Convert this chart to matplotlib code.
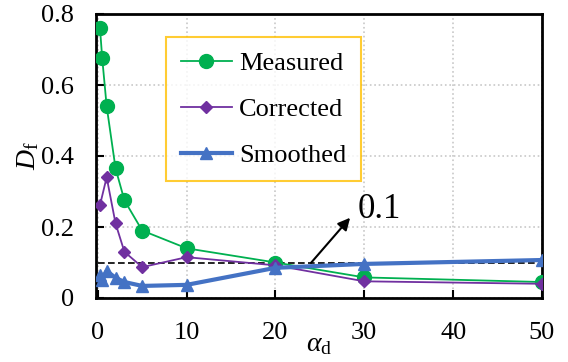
import numpy as np
import matplotlib.pyplot as plt

plt.rcParams['font.family'] = ['Liberation Serif', 'DejaVu Serif']
plt.rcParams['mathtext.fontset'] = 'custom'
plt.rcParams['mathtext.rm'] = 'Liberation Serif'
plt.rcParams['mathtext.it'] = 'Liberation Serif:italic'

# Data
x_meas = [0.25, 0.5, 1, 2, 3, 5, 10, 20, 30, 50]
d_meas = [0.76, 0.675, 0.54, 0.365, 0.275, 0.19, 0.14, 0.10, 0.058, 0.045]

x_corr = [0.25, 1, 2, 3, 5, 10, 20, 30, 50]
d_corr = [0.262, 0.34, 0.21, 0.13, 0.087, 0.115, 0.092, 0.047, 0.04]

x_smooth = [0.25, 0.5, 1, 2, 3, 5, 10, 20, 30, 50]
d_smooth = [0.065, 0.052, 0.076, 0.057, 0.045, 0.034, 0.037, 0.085, 0.096, 0.107]

threshold = 0.1

fig = plt.figure(figsize=(5.68, 3.62), dpi=100)
ax = fig.add_axes([96 / 568, 1 - 298 / 362, 446 / 568, 284 / 362])

ax.plot([0, 50], [threshold, threshold], color='black', linestyle='--',
        linewidth=1.2, dashes=(4, 2), zorder=2)

ax.plot(x_meas, d_meas, color='#00B050', marker='o', markersize=10,
        linewidth=1.3, label='Measured', zorder=3)
ax.plot(x_corr, d_corr, color='#7030A0', marker='D', markersize=6,
        linewidth=1.3, label='Corrected', zorder=4)
ax.plot(x_smooth, d_smooth, color='#4472C4', marker='^', markersize=8,
        linewidth=3, label='Smoothed', zorder=5)

# arrow pointing from the dashed line up to the label
ax.annotate('', xy=(28.4, 0.226), xytext=(24, 0.099),
            arrowprops=dict(arrowstyle='-|>', color='black', lw=1.5,
                            mutation_scale=18, shrinkA=0, shrinkB=0))
ax.text(29.2, 0.25, '0.1', fontsize=25, va='center', ha='left')

ax.set_xlim(-0.2, 50)
ax.set_ylim(0, 0.8)
ax.set_xticks([0, 10, 20, 30, 40, 50])
ax.set_yticks([0, 0.2, 0.4, 0.6, 0.8])
ax.set_yticklabels(['0', '0.2', '0.4', '0.6', '0.8'])
ax.tick_params(direction='in', labelsize=19, width=1.5, length=6)
ax.tick_params(axis='x', pad=17)
ax.tick_params(axis='y', pad=16)
ax.grid(True, color='#c8c8c8', linestyle=':', linewidth=1.2)
for s in ax.spines.values():
    s.set_linewidth(2)

ax.set_xlabel(r'$\mathit{\alpha}_{\mathrm{d}}$', fontsize=20, labelpad=-8)
ax.set_ylabel(r'$\mathit{D}_{\mathrm{f}}$', fontsize=20, labelpad=0)

leg = ax.legend(loc='upper left', bbox_to_anchor=(0.157, 0.919), fontsize=19,
                frameon=True, fancybox=False, edgecolor='#FFC000',
                handlelength=1.95, borderpad=0.55, labelspacing=0.85,
                handletextpad=0.27, borderaxespad=0)
leg.get_frame().set_linewidth(1.5)

fig.savefig('out.png', dpi=100)
